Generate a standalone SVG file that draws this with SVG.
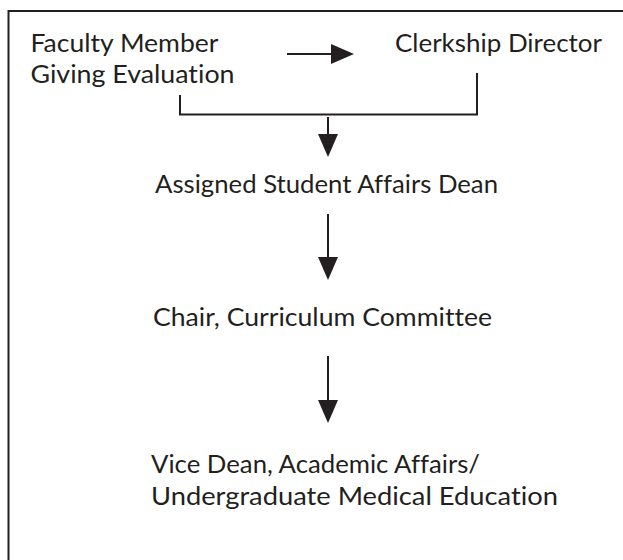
<svg xmlns="http://www.w3.org/2000/svg" width="623" height="560" viewBox="0 0 623 560">
<defs>
<style>
.t{font-family:Lato,"Open Sans","Liberation Sans",sans-serif;font-size:25.5px;fill:#231f20;font-variant-ligatures:none}
.ln{fill:none;stroke:#231f20;stroke-width:2}
</style>
<marker id="ah" markerUnits="userSpaceOnUse" markerWidth="24" markerHeight="22" viewBox="0 -11 24 22" refX="0" refY="0" orient="auto">
<path d="M0,-10 L23,0 L0,10 Z" fill="#231f20"/>
</marker>
</defs>
<rect width="623" height="560" fill="#fff"/>
<path class="ln" d="M8.5,560 V11 H623"/>
<g id="faculty"><text class="t" x="30.5" y="52" textLength="188" lengthAdjust="spacingAndGlyphs">Faculty Member</text><text class="t" x="30.5" y="83" textLength="204" lengthAdjust="spacingAndGlyphs">Giving Evaluation</text></g>
<g id="clerkship"><text class="t" x="395" y="52" textLength="207" lengthAdjust="spacingAndGlyphs">Clerkship Director</text></g>
<g id="assigned"><text class="t" x="155" y="193" textLength="343" lengthAdjust="spacingAndGlyphs">Assigned Student Affairs Dean</text></g>
<g id="chair"><text class="t" x="153" y="326" textLength="339" lengthAdjust="spacingAndGlyphs">Chair, Curriculum Committee</text></g>
<g id="vicedean"><text class="t" x="151" y="473" textLength="329" lengthAdjust="spacingAndGlyphs">Vice Dean, Academic Affairs/</text><text class="t" x="151" y="505" textLength="407" lengthAdjust="spacingAndGlyphs">Undergraduate Medical Education</text></g>
<g id="connectors">
<path class="ln" d="M287,54 H331" marker-end="url(#ah)"/>
<path class="ln" d="M180,95 V114.5 H477 V73"/>
<path class="ln" d="M328,117 V134" marker-end="url(#ah)"/>
<path class="ln" d="M328,214 V257" marker-end="url(#ah)"/>
<path class="ln" d="M328,356 V400" marker-end="url(#ah)"/>
</g>
</svg>
